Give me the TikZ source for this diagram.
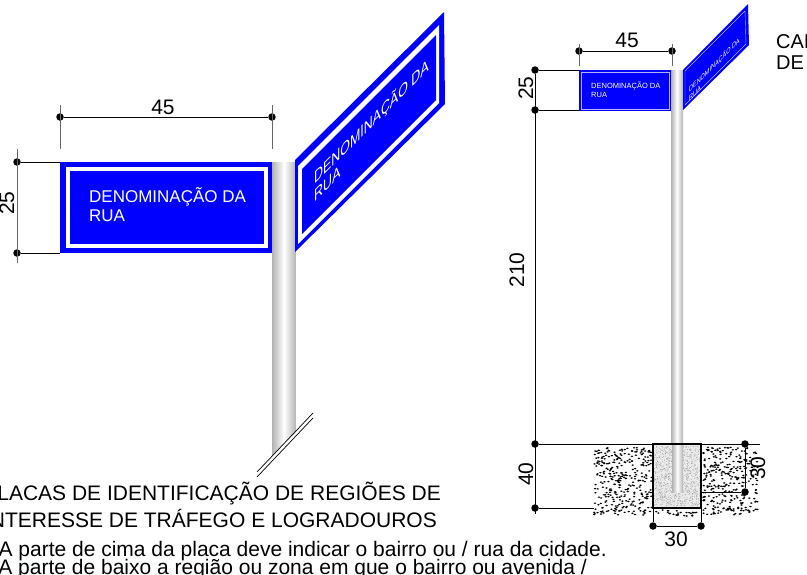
\documentclass[tikz,border=0pt]{standalone}
\usepackage{fontspec}
\setmainfont{Liberation Sans}
\tikzset{
  dimdot/.style={circle,fill=black,inner sep=0pt,minimum size=7.5pt},
  dimlabel/.style={inner sep=0pt,font=\fontsize{21}{21}\selectfont},
  bodytext/.style={inner sep=0pt,anchor=base east,font=\fontsize{21}{21}\selectfont},
  sidetext/.style={inner sep=0pt,anchor=base west,font=\fontsize{20}{20}\selectfont},
  signtext/.style={inner sep=0pt,anchor=base west,text=white,font=\fontsize{17}{17}\selectfont},
  smalltext/.style={inner sep=0pt,anchor=base west,text=white,font=\fontsize{7.5}{7.5}\selectfont},
  dimline/.style={line width=1pt},
  tickline/.style={line width=1pt,black!60}
}
\begin{document}
\begin{tikzpicture}[x=1pt,y=-1pt]
  \path[use as bounding box,clip] (0,0) rectangle (807,574);
  % poles
  \shade[left color=black!30,right color=black!30,middle color=white]
    (272,162) -- (296,162) -- (296,432) -- (272,456) -- cycle;
  \shade[left color=black!30,right color=black!30,middle color=white]
    (671,70) -- (683,70) -- (683,492) -- (671,492) -- cycle;
  % large sign
  \fill[blue] (60,162) rectangle (272,253);
  \fill[white] (65.5,167) rectangle (267.5,248);
  \fill[blue] (69.5,171) rectangle (263.5,244);
  \fill[blue] (295,160) -- (444,12) -- (445,104) -- (295,252) -- cycle;
  \fill[white] (298,166) -- (439,25) -- (439,103) -- (298,244) -- cycle;
  \fill[blue] (302,169) -- (436,35) -- (436,100) -- (302,234) -- cycle;
  \node[signtext] (signfront1) at (89,202) {DENOMINAÇÃO DA};
  \node[signtext] (signfront2) at (89,221) {RUA};
  \begin{scope}[cm={0.73,0.73,0,1,(314,185)}]
    \node[signtext,transform shape] (signside1) at (0,0) {DENOMINAÇÃO DA};
    \node[signtext,transform shape] (signside2) at (0,18) {RUA};
  \end{scope}
  % small sign
  \fill[blue] (579,70) rectangle (671,111);
  \draw[blue!30,line width=0.4pt] (581,72) rectangle (669,109);
  \fill[blue] (683,70) -- (748,4) -- (749,45) -- (683,110) -- cycle;
  \draw[blue!30,line width=0.4pt] (685,71) -- (745,11) -- (746,44) -- (685,105) -- cycle;
  \node[smalltext] (smallfront1) at (591,88) {DENOMINAÇÃO DA};
  \node[smalltext] (smallfront2) at (591,97) {RUA};
  \begin{scope}[cm={0.73,0.73,0,1,(689,93)}]
    \node[smalltext,transform shape] (smallside1) at (0,0) {DENOMINAÇÃO DA};
    \node[smalltext,transform shape] (smallside2) at (0,8.5) {RUA};
  \end{scope}
  % footing
  \fill[black!8] (653,444) rectangle (701,508);
  \pgfmathsetseed{7}
  \foreach \i in {1,...,1100} {
    \pgfmathsetmacro{\dotx}{654+46*rnd}
    \pgfmathsetmacro{\doty}{446+60*rnd}
    \fill[black!45] (\dotx,\doty) circle (0.35pt);
  }
  \shade[left color=black!30,right color=black!30,middle color=white]
    (672,444) -- (683,444) -- (683,492) -- (672,492) -- cycle;
  \foreach \i in {1,...,330} {
    \pgfmathsetmacro{\dotx}{594+58*rnd}
    \pgfmathsetmacro{\doty}{447+68*rnd}
    \fill (\dotx,\doty) ellipse (1.3pt and 0.8pt);
  }
  \foreach \i in {1,...,310} {
    \pgfmathsetmacro{\dotx}{703+55*rnd}
    \pgfmathsetmacro{\doty}{447+68*rnd}
    \fill (\dotx,\doty) ellipse (1.3pt and 0.8pt);
  }
  \foreach \i in {1,...,26} {
    \pgfmathsetmacro{\dotx}{654+46*rnd}
    \pgfmathsetmacro{\doty}{510+6*rnd}
    \fill (\dotx,\doty) ellipse (1.3pt and 0.8pt);
  }
  \draw[line width=1.2pt] (653,444) rectangle (701,508);
  \draw[line width=1pt] (594,444) -- (760,444);
  % dimension points
  \draw
    (60,117) node[dimdot] (topa){}
    (272,117) node[dimdot] (topb){}
    (17,162) node[dimdot] (lefta){}
    (17,253) node[dimdot] (leftb){}
    (579,51) node[dimdot] (smalla){}
    (672,51) node[dimdot] (smallb){}
    (535,70) node[dimdot] (heighta){}
    (535,110) node[dimdot] (heightb){}
    (535,444) node[dimdot] (heightc){}
    (535,508) node[dimdot] (heightd){}
    (653,526) node[dimdot] (basea){}
    (701,526) node[dimdot] (baseb){}
    (745,444) node[dimdot] (deptha){}
    (745,492) node[dimdot] (depthb){};
  \coordinate (topa1) at (60,105);
  \coordinate (topa2) at (60,149);
  \coordinate (topb1) at (272,105);
  \coordinate (topb2) at (272,149);
  \coordinate (lefta1) at (17,149);
  \coordinate (leftb1) at (17,263);
  \coordinate (lefte) at (60,162);
  \coordinate (leftf) at (60,253);
  \coordinate (smalla1) at (579,44);
  \coordinate (smalla2) at (579,66);
  \coordinate (smallb1) at (672,44);
  \coordinate (smallb2) at (672,66);
  \coordinate (heighte) at (579,70);
  \coordinate (heightf) at (579,110);
  \coordinate (heightg) at (594,444);
  \coordinate (heighth) at (594,508);
  \coordinate (heighti) at (535,514);
  \coordinate (basec) at (653,508);
  \coordinate (based) at (701,508);
  \coordinate (depthc) at (701,492);
  \coordinate (breaka) at (257,472);
  \coordinate (breakb) at (313,413);
  \coordinate (breakc) at (257,477);
  \coordinate (breakd) at (313,418);
  \begin{scope}[dimline]
    \draw (topa) to (topb);
    \draw (lefta) to (lefte);
    \draw (leftb) to (leftf);
    \draw (smalla) to (smallb);
    \draw (heighta) to (heighte);
    \draw (heightb) to (heightf);
    \draw (heightc) to (heightg);
    \draw (heightd) to (heighth);
    \draw (heighta) to (heighti);
    \draw (basea) to (baseb);
    \draw (deptha) to (depthb);
    \draw (depthb) to (depthc);
    \draw (basec) to (basea);
    \draw (based) to (baseb);
  \end{scope}
  \begin{scope}[tickline]
    \draw (topa1) to (topa2);
    \draw (topb1) to (topb2);
    \draw (lefta1) to (leftb1);
    \draw (smalla1) to (smalla2);
    \draw (smallb1) to (smallb2);
  \end{scope}
  \draw[line width=0.7pt] (breaka) to (breakb);
  \draw[line width=0.7pt] (breakc) to (breakd);
  % labels
  \node[dimlabel] (top45) at (163,107) {45};
  \node[dimlabel,rotate=90] (left25) at (7,203) {25};
  \node[dimlabel] (small45) at (627,40) {45};
  \node[dimlabel,rotate=90] (small25) at (526,88) {25};
  \node[dimlabel,rotate=90] (height210) at (517,270) {210};
  \node[dimlabel,rotate=90] (height40) at (526,474) {40};
  \node[dimlabel] (base30) at (676,539) {30};
  \node[dimlabel,rotate=90] (depth30) at (758,468) {30};
  \node[sidetext] (capa) at (776,48) {CAIXA};
  \node[sidetext] (capb) at (776,69) {DE};
  \node[bodytext] (texta) at (441,500) {PLACAS DE IDENTIFICAÇÃO DE REGIÕES DE};
  \node[bodytext] (textb) at (437,527) {INTERESSE DE TRÁFEGO E LOGRADOUROS};
  \node[bodytext] (textc) at (607,556) {A parte de cima da placa deve indicar o bairro ou / rua da cidade.};
  \node[bodytext] (textd) at (587,574) {A parte de baixo a região ou zona em que o bairro ou avenida /};
\end{tikzpicture}
\end{document}
